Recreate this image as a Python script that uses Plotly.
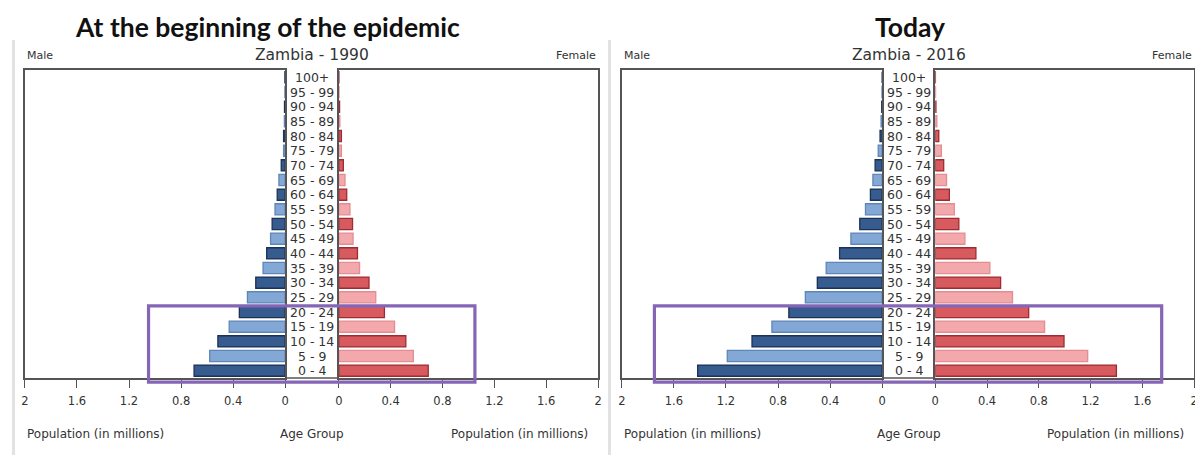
import plotly.graph_objects as go

# age groups, bottom to top
ages = ["0 - 4", "5 - 9", "10 - 14", "15 - 19", "20 - 24", "25 - 29", "30 - 34",
        "35 - 39", "40 - 44", "45 - 49", "50 - 54", "55 - 59", "60 - 64", "65 - 69",
        "70 - 74", "75 - 79", "80 - 84", "85 - 89", "90 - 94", "95 - 99", "100+"]

# population in millions
male_1990 = [0.70, 0.58, 0.517, 0.43, 0.352, 0.29, 0.226, 0.17, 0.142, 0.112, 0.10,
             0.078, 0.061, 0.048, 0.03, 0.012, 0.012, 0.006, 0.005, 0.002, 0.002]
female_1990 = [0.69, 0.575, 0.517, 0.43, 0.352, 0.285, 0.233, 0.16, 0.144, 0.11, 0.106,
               0.086, 0.061, 0.048, 0.035, 0.02, 0.02, 0.008, 0.006, 0.002, 0.001]
male_2016 = [1.418, 1.19, 1.0, 0.847, 0.717, 0.59, 0.498, 0.43, 0.327, 0.24, 0.172,
             0.128, 0.09, 0.071, 0.054, 0.03, 0.016, 0.008, 0.003, 0.001, 0.0]
female_2016 = [1.40, 1.178, 0.995, 0.845, 0.722, 0.597, 0.505, 0.422, 0.314, 0.229, 0.182,
               0.147, 0.109, 0.087, 0.065, 0.047, 0.027, 0.012, 0.005, 0.002, 0.001]

tick_vals = [0, 0.4, 0.8, 1.2, 1.6, 2]
tick_text = ["0", "0.4", "0.8", "1.2", "1.6", "2"]

panel_titles = ["At the beginning of the epidemic", "Today"]
chart_titles = ["Zambia - 1990", "Zambia - 2016"]
highlight_groups = ["0 - 4", "20 - 24"]     # first / last age group in the box
highlight_extent = [1.05, 1.75]             # millions, per panel

W, H = 1203, 455
OFF = 8          # page body margin: the figure starts 8px in
FW, FH = W - OFF, H - OFF
px = lambda p: (p - OFF) / FW
py = lambda p: 1 - (p - OFF) / FH

FONT = "DejaVu Sans"
TXT = "#333333"
AXC = "#555555"

male_dark, male_light = "#365b8e", "#84a8d6"
male_dark_ln, male_light_ln = "#1b3156", "#5f86b8"
fem_dark, fem_light = "#d75b5e", "#f3a8ab"
fem_dark_ln, fem_light_ln = "#9e2b31", "#e38d92"

male_fill = [male_dark if i % 2 == 0 else male_light for i in range(len(ages))]
male_line = [male_dark_ln if i % 2 == 0 else male_light_ln for i in range(len(ages))]
fem_fill = [fem_dark if i % 2 == 0 else fem_light for i in range(len(ages))]
fem_line = [fem_dark_ln if i % 2 == 0 else fem_light_ln for i in range(len(ages))]

# pixel layout of the two panels: male box left/right, female box left/right
panels = [(21, 283, 337, 598), (622, 884, 937.5, 1198)]
title_x = [265, 912]
y_top, y_bot = 70, 378
row = (y_bot - y_top) / len(ages)

fig = go.Figure()
layout = dict(
    width=FW, height=FH, margin=dict(l=0, r=0, t=0, b=0),
    paper_bgcolor="white", plot_bgcolor="white", showlegend=False,
    font=dict(family=FONT, color=TXT),
)
shapes, annotations = [], []

data = [(male_1990, female_1990), (male_2016, female_2016)]
for p, (m_left, m_right, f_left, f_right) in enumerate(panels):
    males, females = data[p]
    xm, xf = 2 * p + 1, 2 * p + 2
    for k, vals, fill, line in [(xm, males, male_fill, male_line),
                                (xf, females, fem_fill, fem_line)]:
        sfx = "" if k == 1 else str(k)
        fig.add_trace(go.Bar(
            x=vals, y=ages, orientation="h", width=0.76,
            marker=dict(color=fill, line=dict(color=line, width=1.3)),
            xaxis="x" + sfx, yaxis="y" + sfx, hoverinfo="x+y",
        ))
        is_male = k == xm
        dom = [px(m_left), px(m_right)] if is_male else [px(f_left), px(f_right)]
        layout["xaxis" + sfx] = dict(
            domain=dom, anchor="y" + sfx,
            range=[2, 0] if is_male else [0, 2],
            tickvals=tick_vals, ticktext=tick_text,
            ticks="outside", ticklen=8, tickcolor=AXC, tickwidth=1.3,
            ticklabelstandoff=3,
            showline=True, linecolor=AXC, linewidth=1.5, mirror=True,
            showgrid=False, zeroline=False,
            tickfont=dict(size=11.5, color=TXT, family=FONT),
        )
        layout["yaxis" + sfx] = dict(
            domain=[py(y_bot), py(y_top)], anchor="x" + sfx,
            type="category", categoryorder="array", categoryarray=ages,
            range=[-0.5, len(ages) - 0.5],
            showticklabels=False, ticks="", showgrid=False, zeroline=False,
            showline=True, linecolor=AXC, linewidth=1.5, mirror=True,
        )

    # axis line continuing under the age labels
    shapes.append(dict(type="line", xref="paper", yref="paper",
                       x0=px(m_right), x1=px(f_left), y0=py(y_bot), y1=py(y_bot),
                       line=dict(color=AXC, width=1.5)))

    cx = px((m_right + f_left) / 2)
    for a in ages:
        annotations.append(dict(x=cx, y=a, xref="paper", yref="y" + ("" if p == 0 else str(xm)),
                                text=a, showarrow=False, xanchor="center", yanchor="middle",
                                font=dict(size=12.5, color=TXT, family=FONT)))

    # highlight box around the young age groups (paper coords so it is not clipped)
    ext = highlight_extent[p]
    mw = (m_right - m_left) / 2
    fw = (f_right - f_left) / 2
    i0 = ages.index(highlight_groups[0])
    i1 = ages.index(highlight_groups[1])
    shapes.append(dict(
        type="rect", xref="paper", yref="paper",
        x0=px(m_right - ext * mw), x1=px(f_left + ext * fw),
        y0=py(y_bot - (i0 - 0.78 + 0.5) * row),
        y1=py(y_bot - (i1 + 0.42 + 0.5) * row),
        line=dict(color="#8565b5", width=3.2), fillcolor="rgba(0,0,0,0)", layer="above",
    ))

    # panel separator
    sep = 9.5 if p == 0 else 609.5
    shapes.append(dict(type="line", xref="paper", yref="paper", x0=px(sep), x1=px(sep),
                       y0=py(40), y1=0, line=dict(color="#e2e2e2", width=3)))

    annotations += [
        dict(x=px(title_x[p]), y=py(OFF + 1), xref="paper", yref="paper",
             text="<b>%s</b>" % panel_titles[p],
             showarrow=False, xanchor="center", yanchor="top",
             font=dict(size=26.5, color="#111111", family="Lato")),
        dict(x=cx, y=py(55), xref="paper", yref="paper", text=chart_titles[p],
             showarrow=False, xanchor="center", yanchor="middle",
             font=dict(size=15.5, color=TXT, family=FONT)),
        dict(x=px(m_left), y=py(56), xref="paper", yref="paper", text="Male",
             showarrow=False, xanchor="left", yanchor="middle",
             font=dict(size=11, color=TXT, family=FONT)),
        dict(x=px(f_right), y=py(56), xref="paper", yref="paper", text="Female",
             showarrow=False, xanchor="right", yanchor="middle",
             font=dict(size=11, color=TXT, family=FONT)),
        dict(x=px(m_left), y=py(434), xref="paper", yref="paper", text="Population (in millions)",
             showarrow=False, xanchor="left", yanchor="middle",
             font=dict(size=12, color=TXT, family=FONT)),
        dict(x=cx, y=py(434), xref="paper", yref="paper", text="Age Group",
             showarrow=False, xanchor="center", yanchor="middle",
             font=dict(size=12, color=TXT, family=FONT)),
        dict(x=px(f_right - 8), y=py(434), xref="paper", yref="paper", text="Population (in millions)",
             showarrow=False, xanchor="right", yanchor="middle",
             font=dict(size=12, color=TXT, family=FONT)),
    ]

layout["shapes"] = shapes
layout["annotations"] = annotations
fig.update_layout(**layout)
fig.write_html("out.html")
